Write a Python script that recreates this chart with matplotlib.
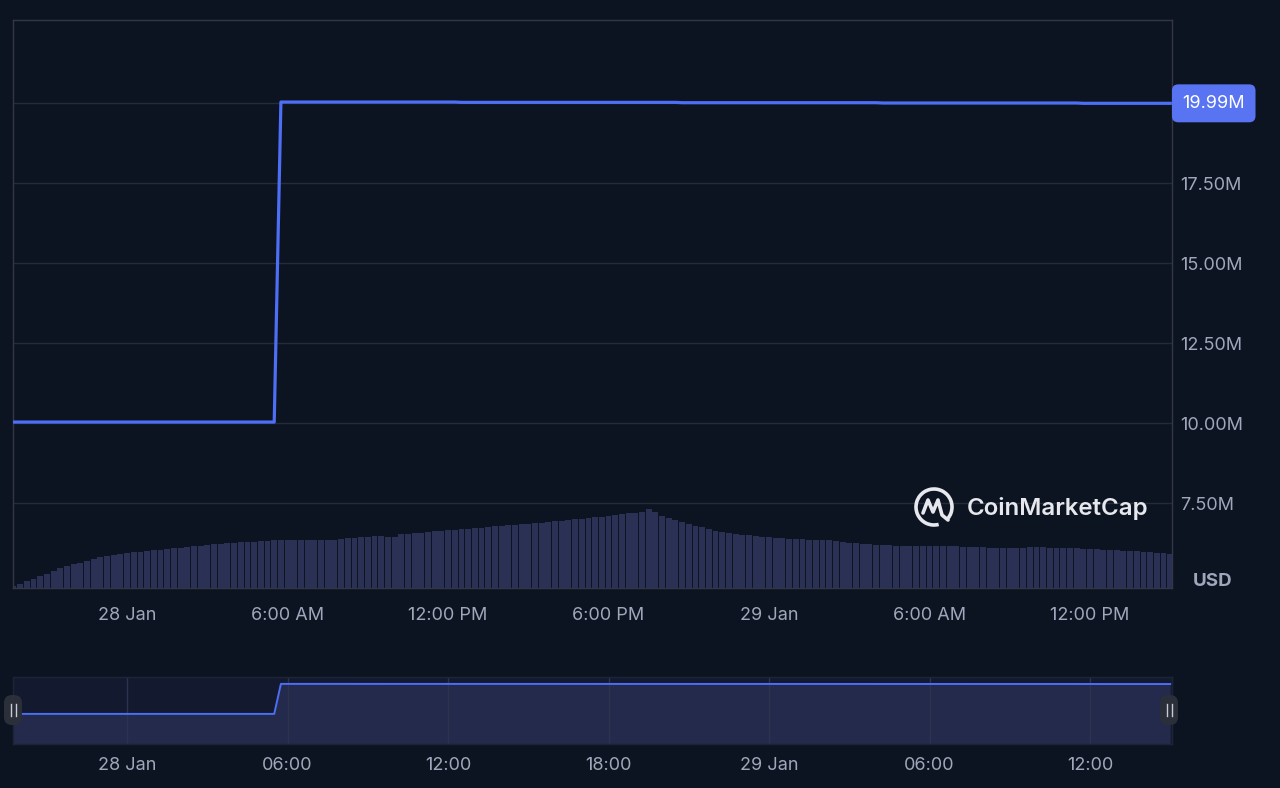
import matplotlib
matplotlib.use('Agg')
import matplotlib.pyplot as plt
import pandas as pd
from matplotlib.patches import FancyBboxPatch, Arc
from matplotlib.lines import Line2D
from matplotlib.transforms import IdentityTransform, blended_transform_factory

plt.rcParams['font.family'] = ['Inter', 'DejaVu Sans']

# ---------------- data ----------------
times = pd.date_range('2025-01-27 19:45', periods=174, freq='15min')

# market cap, millions USD (15-minute points)
market_cap = [
    10.03, 10.03, 10.03, 10.03, 10.03, 10.03, 10.03, 10.03, 10.03, 10.03,
    10.03, 10.03, 10.03, 10.03, 10.03, 10.03, 10.03, 10.03, 10.03, 10.03,
    10.03, 10.03, 10.03, 10.03, 10.03, 10.03, 10.03, 10.03, 10.03, 10.03,
    10.03, 10.03, 10.03, 10.03, 10.03, 10.03, 10.03, 10.03, 10.03, 10.03,
    20.03, 20.03, 20.03, 20.03, 20.03, 20.03, 20.03, 20.03, 20.03, 20.03,
    20.03, 20.03, 20.03, 20.03, 20.03, 20.03, 20.03, 20.03, 20.03, 20.03,
    20.03, 20.03, 20.03, 20.03, 20.03, 20.03, 20.03, 20.02, 20.02, 20.02,
    20.02, 20.02, 20.02, 20.02, 20.02, 20.02, 20.02, 20.02, 20.02, 20.02,
    20.02, 20.02, 20.02, 20.02, 20.02, 20.02, 20.02, 20.02, 20.02, 20.02,
    20.02, 20.02, 20.02, 20.02, 20.02, 20.02, 20.02, 20.02, 20.02, 20.02,
    20.01, 20.01, 20.01, 20.01, 20.01, 20.01, 20.01, 20.01, 20.01, 20.01,
    20.01, 20.01, 20.01, 20.01, 20.01, 20.01, 20.01, 20.01, 20.01, 20.01,
    20.01, 20.01, 20.01, 20.01, 20.01, 20.01, 20.01, 20.01, 20.01, 20.01,
    20.00, 20.00, 20.00, 20.00, 20.00, 20.00, 20.00, 20.00, 20.00, 20.00,
    20.00, 20.00, 20.00, 20.00, 20.00, 20.00, 20.00, 20.00, 20.00, 20.00,
    20.00, 20.00, 20.00, 20.00, 20.00, 20.00, 20.00, 20.00, 20.00, 20.00,
    19.99, 19.99, 19.99, 19.99, 19.99, 19.99, 19.99, 19.99, 19.99, 19.99,
    19.99, 19.99, 19.99, 19.99,
]

# volume, millions USD (15-minute bars)
volume = [
    0.10, 0.20, 0.35, 0.45, 0.60, 0.70, 0.85, 1.00, 1.10, 1.20,
    1.25, 1.35, 1.45, 1.55, 1.60, 1.65, 1.70, 1.75, 1.80, 1.80,
    1.85, 1.90, 1.90, 1.95, 2.00, 2.00, 2.05, 2.10, 2.10, 2.15,
    2.20, 2.20, 2.25, 2.25, 2.30, 2.30, 2.30, 2.35, 2.35, 2.40,
    2.40, 2.40, 2.40, 2.40, 2.40, 2.40, 2.40, 2.40, 2.40, 2.45,
    2.50, 2.50, 2.55, 2.55, 2.60, 2.60, 2.55, 2.55, 2.70, 2.70,
    2.75, 2.75, 2.80, 2.85, 2.85, 2.90, 2.90, 2.95, 2.95, 3.00,
    3.00, 3.05, 3.10, 3.10, 3.15, 3.15, 3.20, 3.20, 3.25, 3.25,
    3.30, 3.35, 3.35, 3.40, 3.45, 3.45, 3.50, 3.55, 3.55, 3.60,
    3.65, 3.70, 3.75, 3.75, 3.80, 3.95, 3.80, 3.60, 3.50, 3.40,
    3.30, 3.20, 3.10, 3.05, 2.95, 2.85, 2.80, 2.75, 2.70, 2.65,
    2.65, 2.60, 2.55, 2.55, 2.50, 2.50, 2.45, 2.45, 2.45, 2.40,
    2.40, 2.40, 2.40, 2.35, 2.30, 2.25, 2.25, 2.20, 2.20, 2.15,
    2.15, 2.15, 2.10, 2.10, 2.10, 2.10, 2.10, 2.10, 2.10, 2.10,
    2.10, 2.10, 2.05, 2.05, 2.05, 2.05, 2.00, 2.00, 2.00, 2.00,
    2.00, 2.00, 2.05, 2.05, 2.05, 2.00, 2.00, 2.00, 2.00, 2.00,
    1.95, 1.95, 1.95, 1.90, 1.90, 1.90, 1.85, 1.85, 1.85, 1.80,
    1.80, 1.75, 1.75, 1.70,
]

y_ticks = [7.5, 10.0, 12.5, 15.0, 17.5, 20.0]
y_tick_labels = ['7.50M', '10.00M', '12.50M', '15.00M', '17.50M', '']
x_tick_times = pd.to_datetime(['2025-01-28 00:00', '2025-01-28 06:00', '2025-01-28 12:00',
                               '2025-01-28 18:00', '2025-01-29 00:00', '2025-01-29 06:00',
                               '2025-01-29 12:00'])
main_x_labels = ['28 Jan', '6:00 AM', '12:00 PM', '6:00 PM', '29 Jan', '6:00 AM', '12:00 PM']
nav_x_labels = ['28 Jan', '06:00', '12:00', '18:00', '29 Jan', '06:00', '12:00']
last_label = '19.99M'

# ---------------- style ----------------
BG = '#0d1421'
GRID = '#262b3a'
SPINE = '#323646'
TXT = '#a1a7bb'
LINE = '#4d6ef6'
VOL = '#2a3154'
BOX = '#5874f2'
NAVBG = '#131a2f'
NAVFILL = '#232a4b'

W, H = 1280, 788
fig = plt.figure(figsize=(W / 100, H / 100), dpi=100, facecolor=BG)


def rect(x0, y0, x1, y1):
    return [x0 / W, 1 - y1 / H, (x1 - x0) / W, (y1 - y0) / H]


xmin = pd.Timestamp('2025-01-27 19:44')
xmax = pd.Timestamp('2025-01-29 15:04')

# volume axes (behind)
vax = fig.add_axes(rect(13, 20, 1172, 588))
vax.set_facecolor(BG)
vax.bar(times, volume, width=0.88 * 15 / 1440, color=VOL, align='center', zorder=1)
vax.set_xlim(xmin, xmax)
vax.set_ylim(0, 28.4)
vax.axis('off')

# main axes
ax = fig.add_axes(rect(13, 20, 1172, 588))
ax.set_facecolor('none')
ax.plot(times, market_cap, color=LINE, lw=2.3, zorder=3)
ax.set_xlim(xmin, xmax)
ax.set_ylim(4.844, 22.594)
ax.yaxis.tick_right()
ax.set_yticks(y_ticks, y_tick_labels)
ax.set_xticks(x_tick_times, main_x_labels)
ax.tick_params(axis='y', length=0, pad=6, labelcolor=TXT, labelsize=13)
ax.tick_params(axis='x', length=0, pad=13.5, labelcolor=TXT, labelsize=13)
ax.grid(axis='y', color=GRID, lw=1)
ax.grid(axis='x', visible=False)
for s in ax.spines.values():
    s.set_color(SPINE)
    s.set_linewidth(1)

tr = blended_transform_factory(ax.transAxes, ax.transData)
ax.annotate(last_label, xy=(1.0, market_cap[-1]), xycoords=tr,
            xytext=(7.5, 0), textcoords='offset points', ha='left', va='center',
            color='white', fontsize=13,
            bbox=dict(boxstyle='round,pad=0.58,rounding_size=0.35', fc=BOX, ec='none'),
            annotation_clip=False, zorder=6)

fig.text(1213 / W, 1 - 581 / H, 'USD', ha='center', va='center', fontsize=13.5,
         fontweight='bold', color=TXT)

# watermark logo
cx, cy = 934, H - 507
fig.patches.append(Arc((cx, cy), 36, 36, theta1=-40, theta2=285, lw=2.6,
                       color='#e6e8ee', transform=IdentityTransform(), figure=fig))
wave = Line2D([cx - 11, cx - 6, cx - 1, cx + 4, cx + 8, cx + 14],
              [cy - 6, cy + 7, cy - 5, cy + 7, cy - 8, cy - 13],
              color='#e6e8ee', lw=2.6, transform=IdentityTransform(),
              solid_joinstyle='round', solid_capstyle='round')
fig.lines.append(wave)
fig.text(967 / W, 1 - 509 / H, 'CoinMarketCap', ha='left', va='center', fontsize=17.3,
         fontweight='semibold', color='#e6e8ee')

# navigator
nax = fig.add_axes(rect(13, 677, 1172, 744))
nax.set_facecolor(NAVBG)
nax.fill_between(times, market_cap, 0, color=NAVFILL, lw=0)
nax.plot(times, market_cap, color=LINE, lw=1.4)
nax.set_xlim(xmin, xmax)
nax.set_ylim(0, 22.33)
nax.set_yticks([])
nax.set_xticks(x_tick_times, nav_x_labels)
nax.tick_params(axis='x', length=0, pad=9.5, labelcolor=TXT, labelsize=13)
nax.grid(axis='x', color='#2c3350', lw=1)
for s in nax.spines.values():
    s.set_color('#1e2438')
    s.set_linewidth(1)

# navigator handles
for hx in (4, 1160):
    fig.patches.append(FancyBboxPatch((hx, H - 725), 18, 30,
                                      boxstyle='round,pad=0,rounding_size=8',
                                      fc='#2b2f3a', ec='none',
                                      transform=IdentityTransform(), figure=fig))
    for dx in (6.5, 11.5):
        fig.lines.append(Line2D([hx + dx, hx + dx], [H - 716, H - 704],
                                color='#c8ccd6', lw=1.0, transform=IdentityTransform()))

fig.savefig('out.png', dpi=100, facecolor=BG)
